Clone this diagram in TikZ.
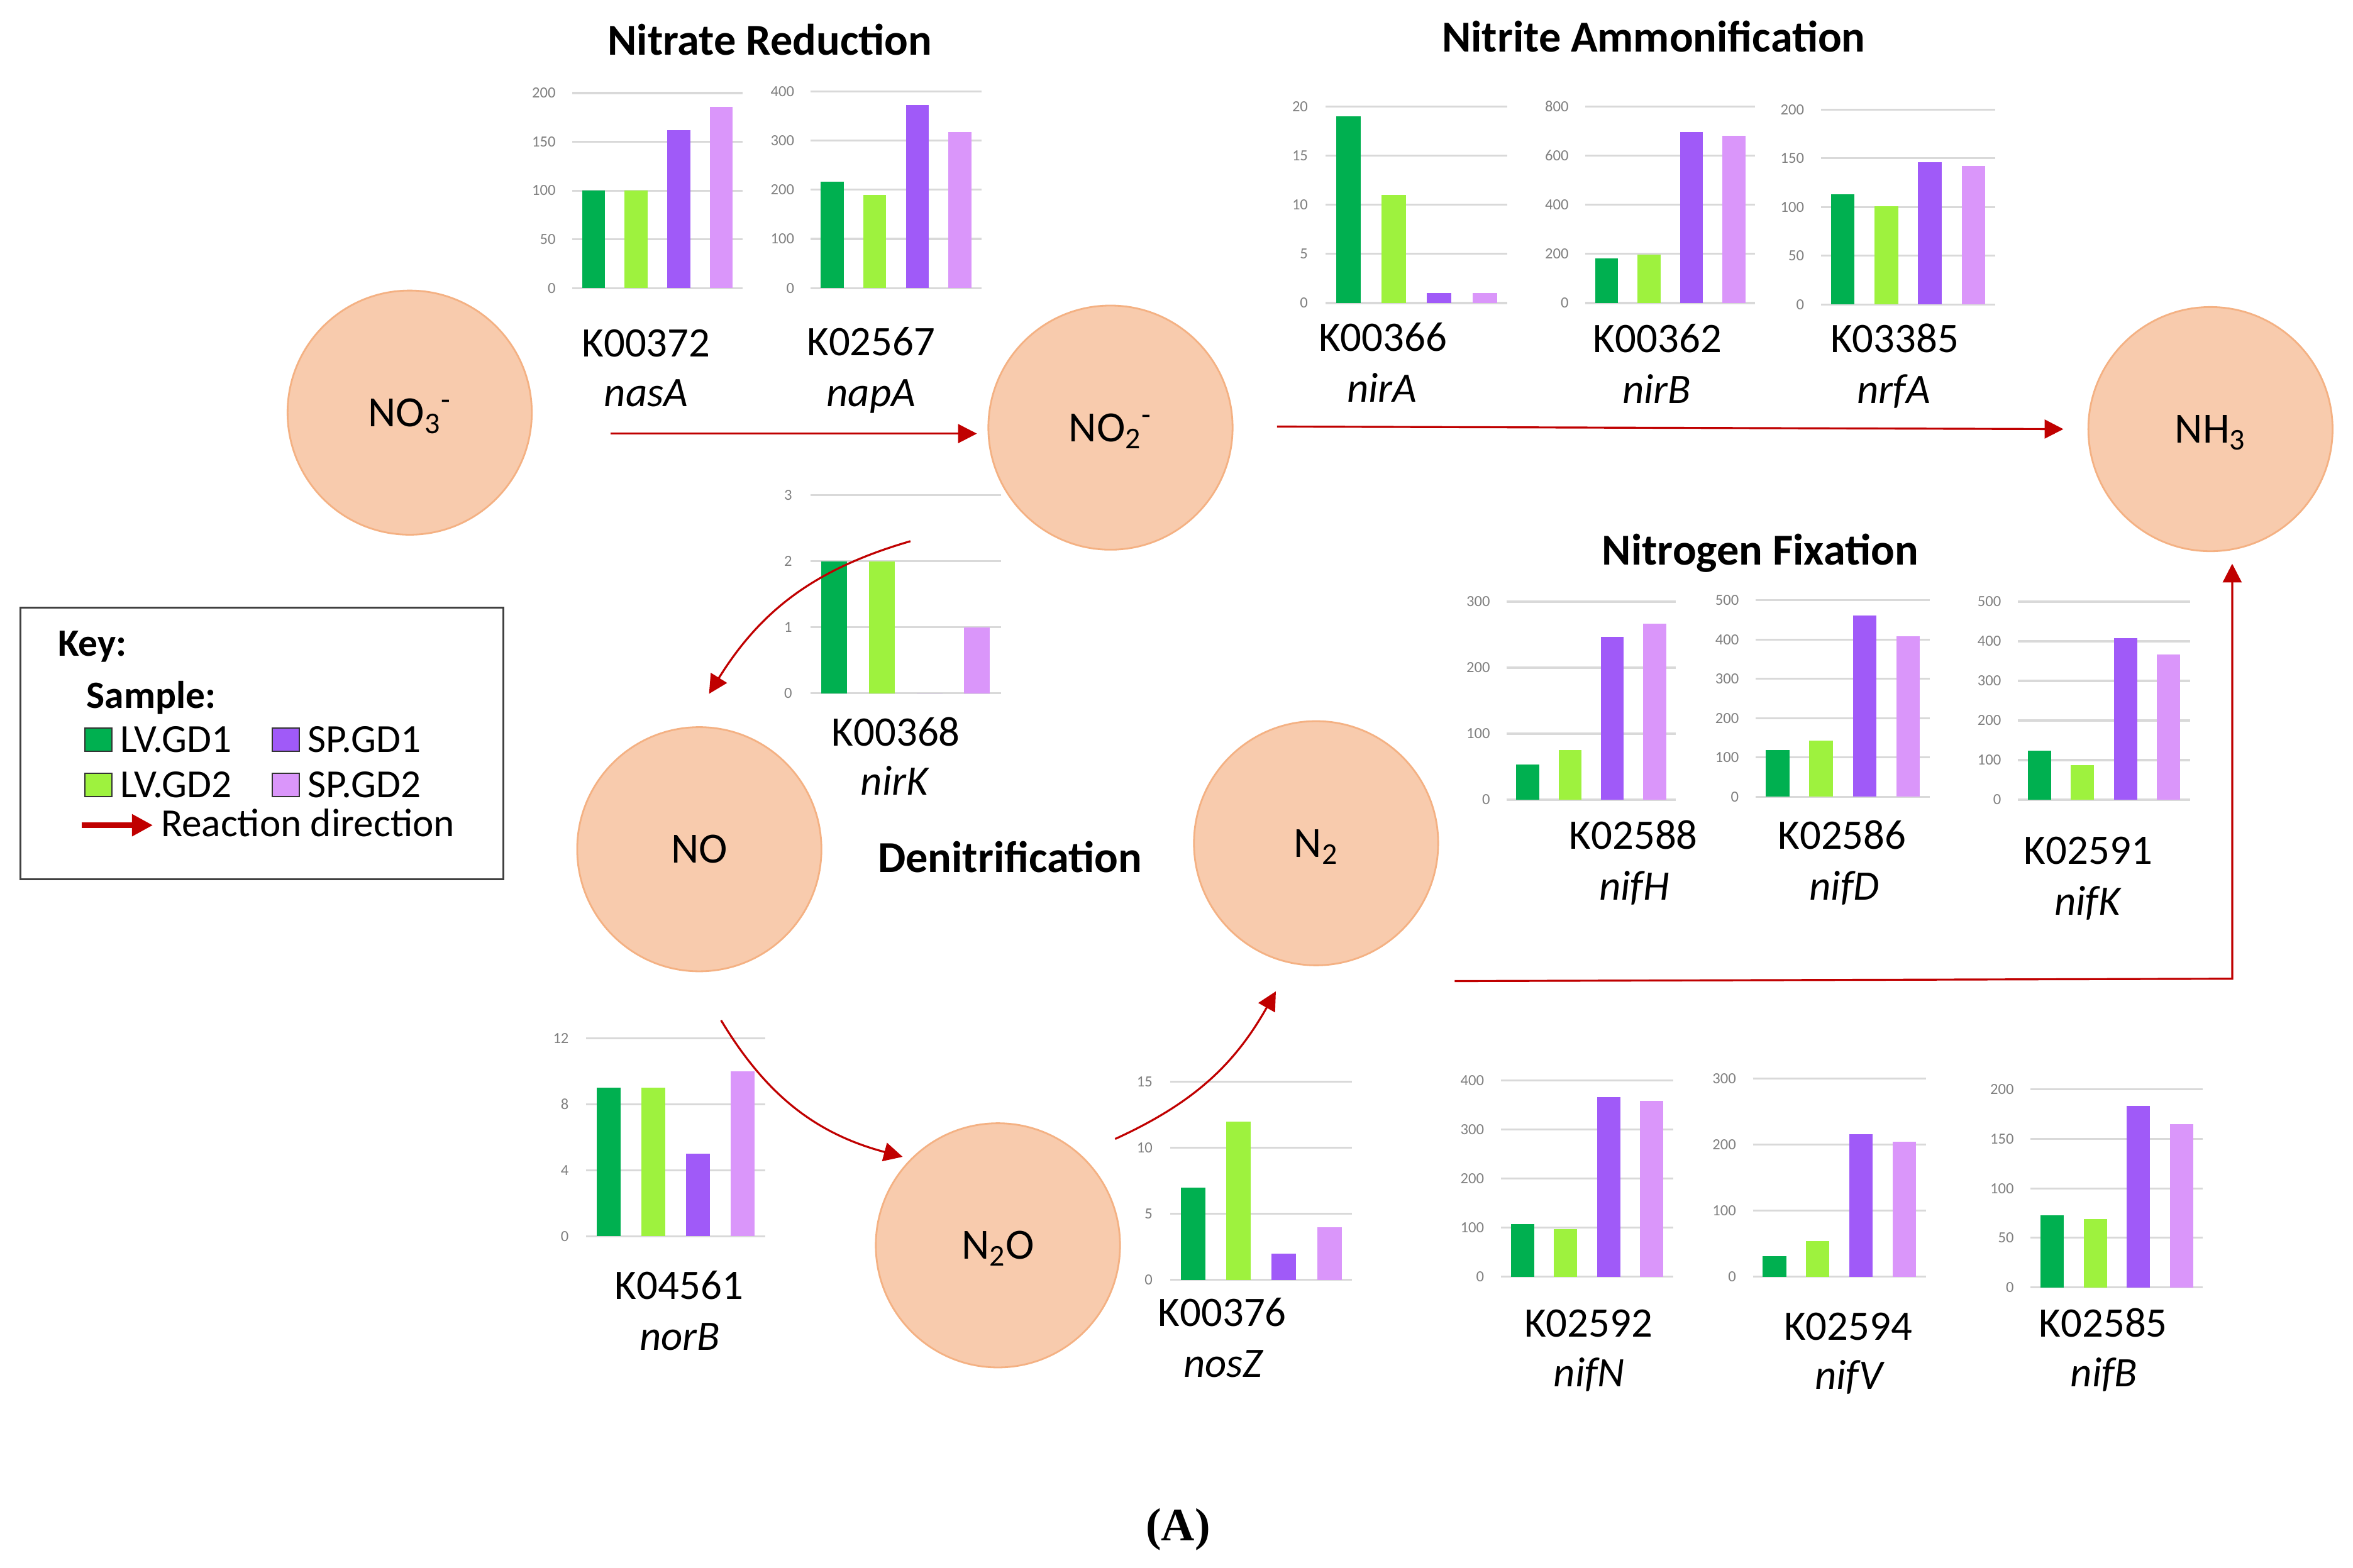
\documentclass[tikz,border=0pt]{standalone}
\usepackage{fontspec}
\setmainfont{Carlito}
\newfontfamily\timesfont{Liberation Serif}
\usetikzlibrary{arrows.meta}

\definecolor{bar0}{RGB}{0,176,80}
\definecolor{bar1}{RGB}{158,242,62}
\definecolor{bar2}{RGB}{160,90,248}
\definecolor{bar3}{RGB}{218,150,250}
\definecolor{circfill}{RGB}{248,203,173}
\definecolor{circline}{RGB}{244,177,131}
\definecolor{arrowred}{RGB}{192,0,0}
\definecolor{gridgray}{RGB}{217,217,217}
\definecolor{tickgray}{RGB}{128,128,128}

\newcommand\fs[1]{\fontsize{#1}{#1}\selectfont}

\tikzset{
  species/.style={circle, fill=circfill, draw=circline, line width=0.8pt,
    minimum size=110.5pt, inner sep=0pt, font=\fs{19.5pt}, text height=12.5pt, text depth=0pt},
  klab/.style={font=\fs{19pt}, inner sep=0pt, text height=12.2pt, text depth=0pt},
  gene/.style={font=\fs{19pt}\itshape, inner sep=0pt, text height=12.2pt, text depth=0pt},
  title/.style={font=\fs{20pt}\bfseries, inner sep=0pt, text height=12.9pt, text depth=0pt},
  gridline/.style={draw=gridgray, line width=0.9pt},
  ticklab/.style={font=\fs{7pt}, text=tickgray, anchor=east, inner sep=0pt},
  reaction/.style={draw=arrowred, line width=0.9pt, -{Triangle[length=8.5pt,width=8.5pt]}},
  keytxt/.style={font=\fs{18pt}, anchor=west, inner sep=0pt, text height=11.6pt, text depth=0pt},
  keybold/.style={font=\fs{17.5pt}\bfseries, anchor=west, inner sep=0pt, text height=11.3pt, text depth=0pt},
  keysq/.style={draw=black!80, line width=0.7pt},
}

% #1 id, #2 first bar centre, #3 bar spacing, #4 top grid y, #5 base y, #6 max, #7 step, #8 values
\newcommand\chart[8]{%
  \pgfmathsetmacro\chGL{#2-0.5*#3}%
  \pgfmathsetmacro\chGR{#2+3.5*#3}%
  \pgfmathsetmacro\chHW{0.27*#3}%
  \pgfmathsetmacro\chSC{(#5-#4)/#6}%
  \foreach \v in {0,#7,...,#6} {
    \pgfmathsetmacro\chYY{#5-\chSC*\v}
    \draw[gridline] (\chGL,\chYY) -- (\chGR,\chYY);
    \node[ticklab] (#1-t\v) at (\chGL-0.38*#3,\chYY) {\v};
  }
  \foreach \val [count=\i from 0] in {#8} {
    \pgfmathsetmacro\chBX{#2+\i*#3}
    \pgfmathsetmacro\chBT{#5-\chSC*\val}
    \fill[bar\i] (\chBX-\chHW,#5) rectangle (\chBX+\chHW,\chBT);
  }
}

\begin{document}
\begin{tikzpicture}[x=0.023865cm, y=-0.023865cm]
\useasboundingbox (0,0) rectangle (1568,1045);
\fill[white] (0,0) rectangle (1568,1045);

% titles
\node[title] (t1) at (513,27) {Nitrate Reduction};
\node[title] (t2) at (1102,25) {Nitrite Ammonification};
\node[title] (t3) at (1173,367) {Nitrogen Fixation};
\node[title] (t4) at (673,572) {Denitrification};

% species
\node[species] (no3) at (273,275) {NO\textsubscript{3}\textsuperscript{-}};
\node[species] (no2) at (740,285) {NO\textsubscript{2}\textsuperscript{-}};
\node[species] (nh3) at (1473,286) {NH\textsubscript{3}};
\node[species] (no) at (466,566) {NO};
\node[species] (n2) at (877,562) {N\textsubscript{2}};
\node[species] (n2o) at (665,830) {N\textsubscript{2}O};

% charts
\chart{nasA}{395.5}{28.4}{62}{192}{200}{50}{100,100,162,186}
\chart{napA}{554.5}{28.4}{61}{192}{400}{100}{216,190,372,318}
\chart{nirA}{898.5}{30.3}{71}{202}{20}{5}{19,11,1,1}
\chart{nirB}{1070.5}{28.3}{71}{202}{800}{200}{183,198,696,681}
\chart{nrfA}{1228}{29}{73}{203}{200}{50}{113,101,146,142}
\chart{nirK}{556}{31.7}{330}{462}{3}{1}{2,2,0,1}
\chart{norB}{405.5}{29.8}{692}{824}{12}{4}{9,9,5,10}
\chart{nosZ}{795}{30.3}{721}{853}{15}{5}{7,12,2,4}
\chart{nifH}{1018}{28.2}{401}{533}{300}{100}{53,75,247,267}
\chart{nifD}{1184.5}{29}{400}{531}{500}{100}{119,143,461,409}
\chart{nifK}{1359}{28.7}{401}{533}{500}{100}{124,88,408,367}
\chart{nifN}{1014.5}{28.7}{720}{851}{400}{100}{107,97,366,358}
\chart{nifV}{1182.5}{28.8}{719}{851}{300}{100}{31,54,216,205}
\chart{nifB}{1367.5}{28.7}{726}{858}{200}{50}{73,69,183,165}

% gene labels
\node[klab] (k00372) at (430.5,229) {K00372};
\node[gene] (g-nasA) at (430.5,262) {nasA};
\node[klab] (k02567) at (580.5,228) {K02567};
\node[gene] (g-napA) at (580.5,262) {napA};
\node[klab] (k00366) at (921.5,225) {K00366};
\node[gene] (g-nirA) at (921,259) {nirA};
\node[klab] (k00362) at (1104.5,226) {K00362};
\node[gene] (g-nirB) at (1104,260) {nirB};
\node[klab] (k03385) at (1262.5,226) {K03385};
\node[gene] (g-nrfA) at (1262,260) {nrfA};
\node[klab] (k00368) at (597,488) {K00368};
\node[gene] (g-nirK) at (596,521) {nirK};
\node[klab] (k04561) at (452.5,857) {K04561};
\node[gene] (g-norB) at (453,891) {norB};
\node[klab] (k00376) at (814.5,875) {K00376};
\node[gene] (g-nosZ) at (815,909) {nosZ};
\node[klab] (k02588) at (1088.5,557) {K02588};
\node[gene] (g-nifH) at (1089,591) {nifH};
\node[klab] (k02586) at (1227.5,557) {K02586};
\node[gene] (g-nifD) at (1229,591) {nifD};
\node[klab] (k02591) at (1391.5,567) {K02591};
\node[gene] (g-nifK) at (1391,601) {nifK};
\node[klab] (k02592) at (1058.5,882) {K02592};
\node[gene] (g-nifN) at (1059,915) {nifN};
\node[klab] (k02594) at (1231.5,884) {K02594};
\node[gene] (g-nifV) at (1232,917) {nifV};
\node[klab] (k02585) at (1401.5,882) {K02585};
\node[gene] (g-nifB) at (1402,915) {nifB};

% reaction arrows
\coordinate (r1s) at (407,289);     \coordinate (r1e) at (651,289);
\coordinate (r2s) at (851,284.3);   \coordinate (r2e) at (1375,286);
\coordinate (r3s) at (606.7,360.7); \coordinate (r3e) at (472.5,462.4);
\coordinate (r4s) at (480.5,680);   \coordinate (r4e) at (601.5,771);
\coordinate (r5s) at (743.1,759.1); \coordinate (r5e) at (850.2,660.7);
\coordinate (r6s) at (969.4,653.9); \coordinate (r6c) at (1487.5,652.3);
\coordinate (r6e) at (1487.5,375.7);
\draw[reaction] (r1s) -- (r1e);
\draw[reaction] (r2s) -- (r2e);
\draw[reaction] (r3s) to[bend right=21] (r3e);
\draw[reaction] (r4s) to[bend right=22] (r4e);
\draw[reaction] (r5s) to[bend right=18] (r5e);
\draw[reaction] (r6s) -- (r6c) -- (r6e);

% key
\draw[line width=0.9pt, draw=black!75] (13.5,405) rectangle (335.5,586);
\node[keybold] (keyt) at (38.4,429) {Key:};
\node[keybold] (samp) at (57.4,463.7) {Sample:};
\draw[keysq, fill=bar0] (56.5,485.3) rectangle (74.5,500.7);
\node[keytxt] (lv1) at (80,493) {LV.GD1};
\draw[keysq, fill=bar2] (181.5,485.3) rectangle (199.4,500.7);
\node[keytxt] (sp1) at (205,493) {SP.GD1};
\draw[keysq, fill=bar1] (56.5,515.4) rectangle (74.5,530.8);
\node[keytxt] (lv2) at (80,523) {LV.GD2};
\draw[keysq, fill=bar3] (181.5,515.4) rectangle (199.4,530.8);
\node[keytxt] (sp2) at (205,523) {SP.GD2};
\coordinate (ka1) at (54.4,550); \coordinate (ka2) at (101.9,550);
\draw[draw=arrowred, line width=2.4pt, -{Triangle[length=9.5pt,width=9.5pt]}] (ka1) -- (ka2);
\node[keytxt] (rd) at (107,549) {Reaction direction};

% panel label
\node[font=\timesfont\bfseries\fs{21pt}, inner sep=0pt] (panelA) at (785,1019.5) {(A)};
\end{tikzpicture}
\end{document}
